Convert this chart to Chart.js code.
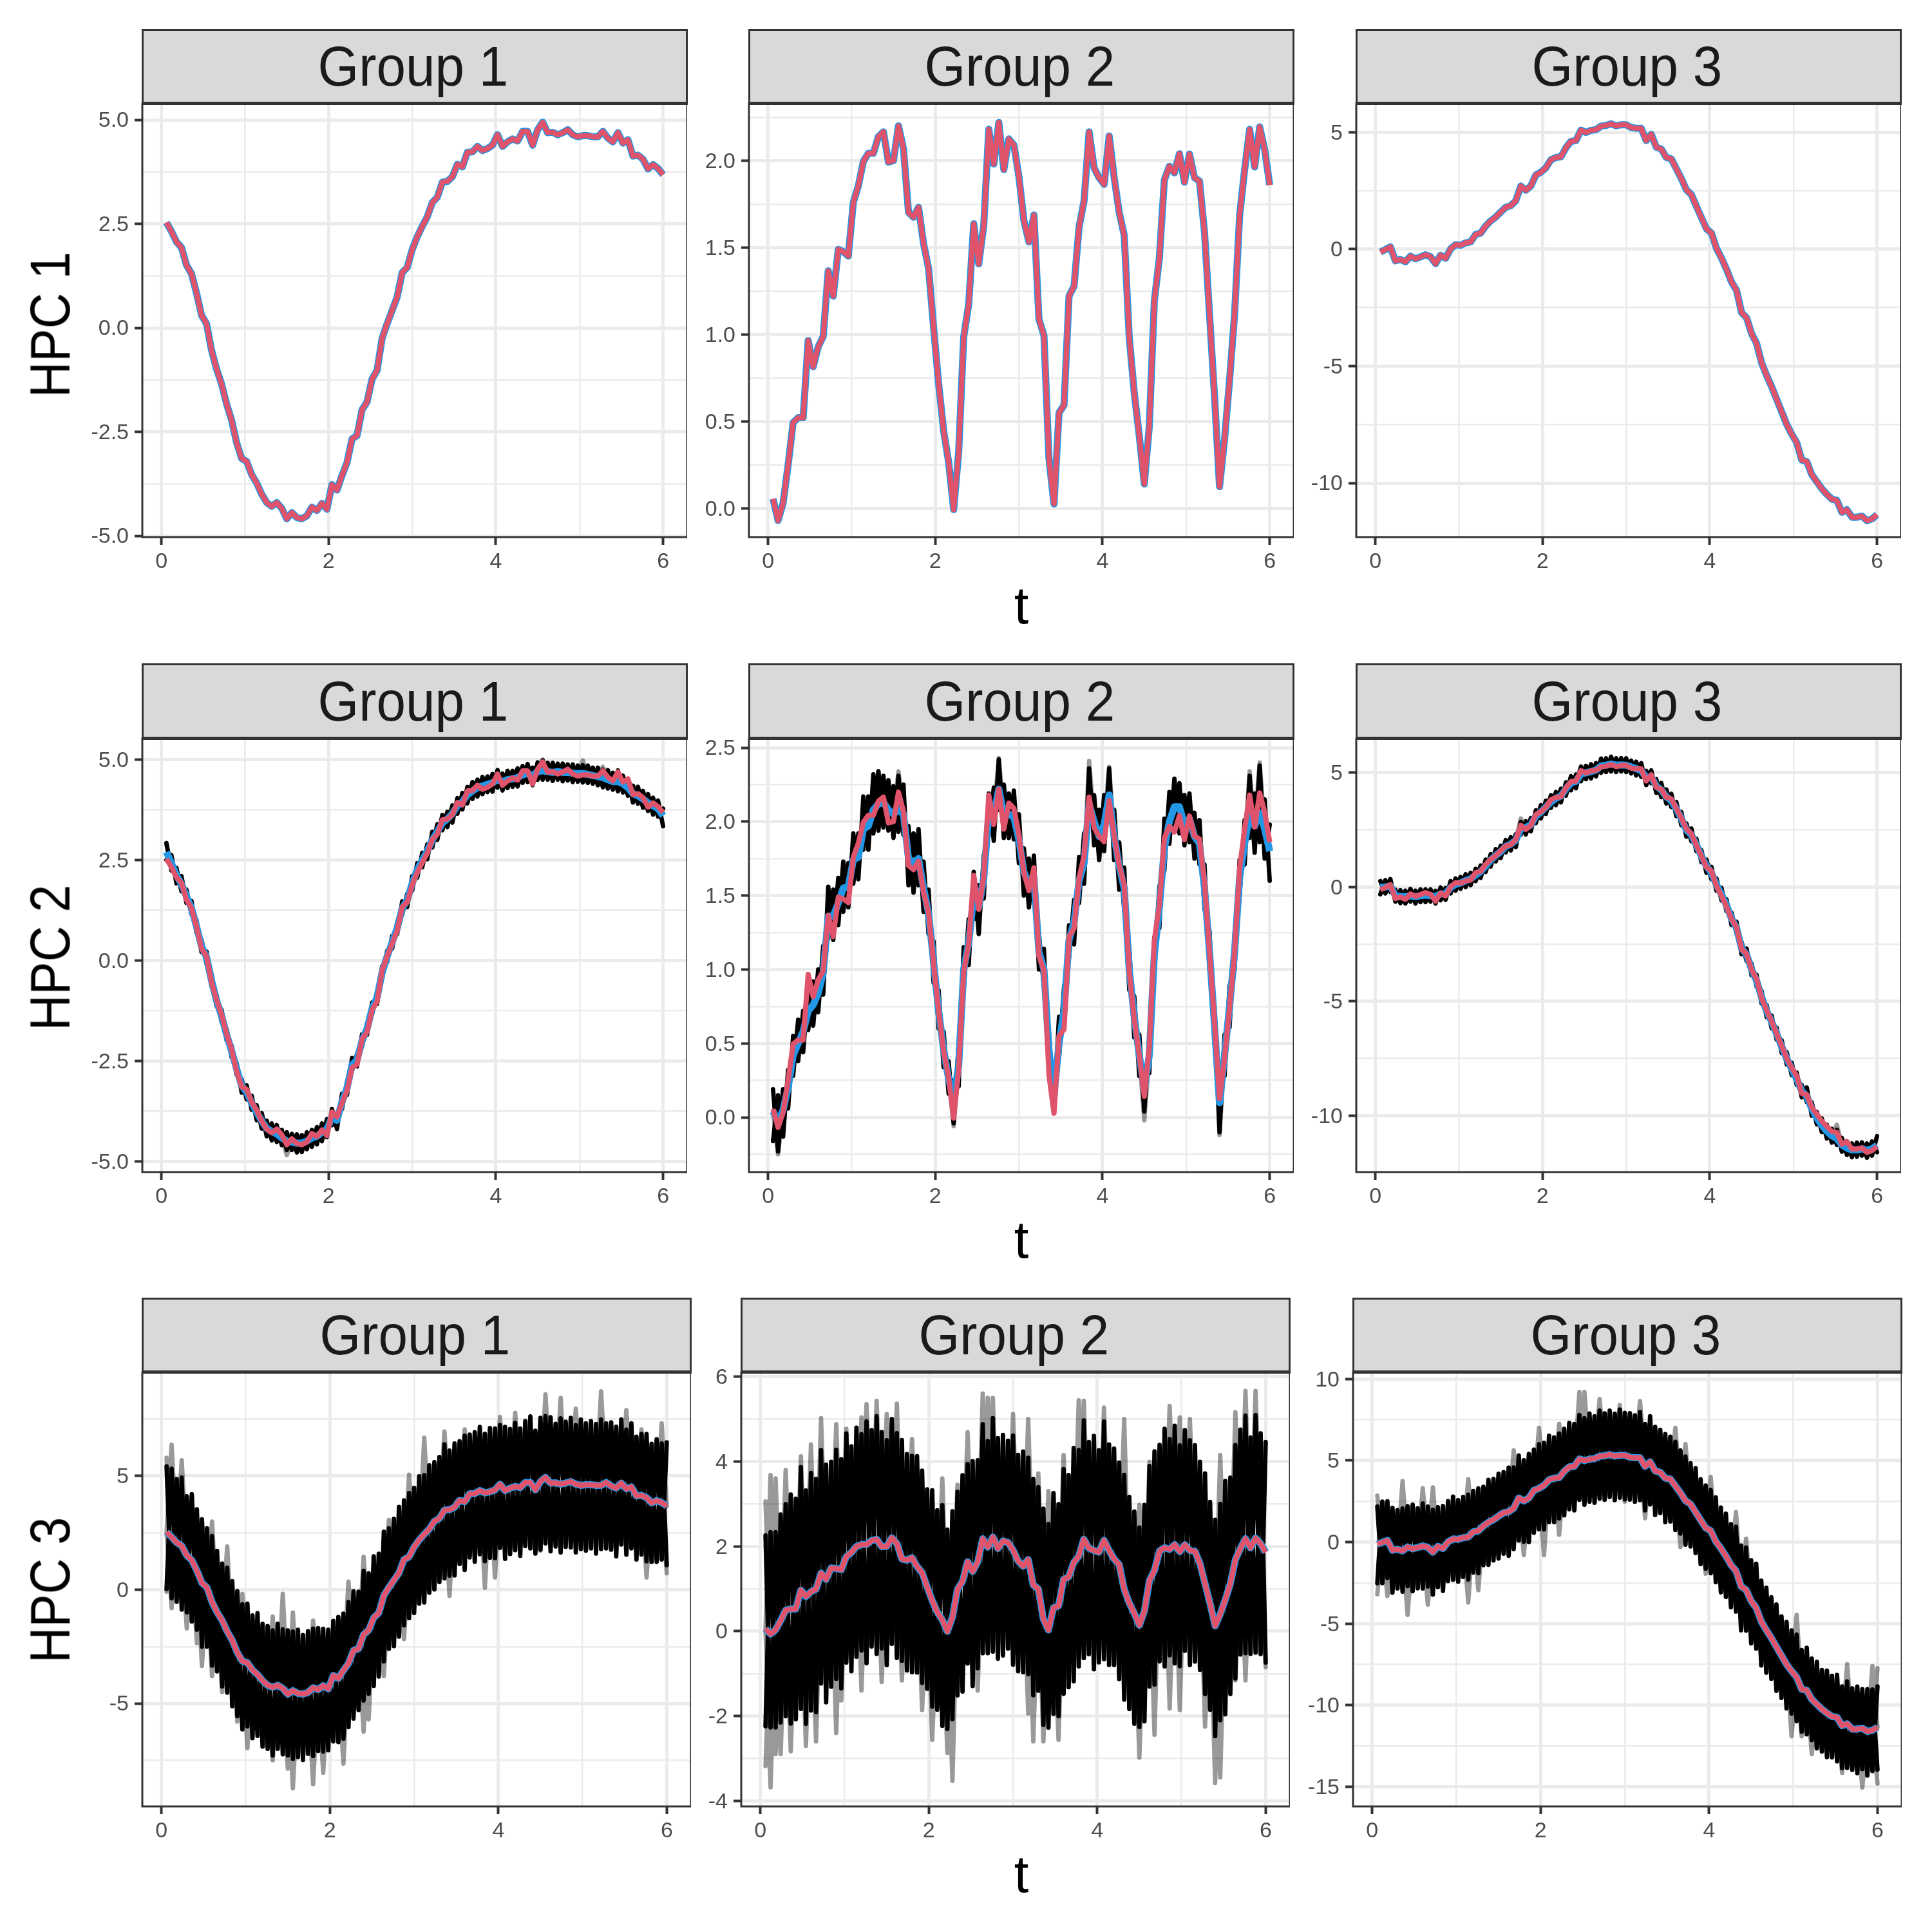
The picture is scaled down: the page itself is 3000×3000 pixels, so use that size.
<!DOCTYPE html>
<html>
<head>
<meta charset="utf-8">
<script src="https://cdn.jsdelivr.net/npm/chart.js@4"></script>
<style>
body { margin: 0; background: #fff; font-family: "Liberation Sans", sans-serif; }
#page { position: relative; width: 3000px; height: 3000px; overflow: hidden; }
canvas { position: absolute; }
.strip { position: absolute; box-sizing: border-box; background: #D9D9D9; border: 3px solid #333; border-bottom-width: 5px; color: #1A1A1A; font-size: 81px; text-align: center; }
.strip span { display: inline-block; transform: translateX(-3px) scale(1.01, 1.07); }
.title { position: absolute; color: #000; font-size: 81px; white-space: nowrap; transform: translate(-50%, -50%); }
</style>
</head>
<body>
<div id="page"></div>
<script>
// Time grid shared by every curve
const t = [0.06,0.12,0.18,0.24,0.30,0.36,0.42,0.48,0.54,0.60,
  0.66,0.72,0.78,0.84,0.90,0.96,1.02,1.08,1.14,1.20,
  1.26,1.32,1.38,1.44,1.50,1.56,1.62,1.68,1.74,1.80,
  1.86,1.92,1.98,2.04,2.10,2.16,2.22,2.28,2.34,2.40,
  2.46,2.52,2.58,2.64,2.70,2.76,2.82,2.88,2.94,3.00,
  3.06,3.12,3.18,3.24,3.30,3.36,3.42,3.48,3.54,3.60,
  3.66,3.72,3.78,3.84,3.90,3.96,4.02,4.08,4.14,4.20,
  4.26,4.32,4.38,4.44,4.50,4.56,4.62,4.68,4.74,4.80,
  4.86,4.92,4.98,5.04,5.10,5.16,5.22,5.28,5.34,5.40,
  5.46,5.52,5.58,5.64,5.70,5.76,5.82,5.88,5.94,6.00];

// Pink curves
const groupOne = [2.53,2.32,2.07,1.93,1.51,1.30,.84,.30,.10,-.54,
  -.99,-1.35,-1.83,-2.22,-2.76,-3.14,-3.21,-3.53,-3.73,-4.0,
  -4.2,-4.29,-4.2,-4.34,-4.59,-4.44,-4.56,-4.59,-4.52,-4.31,
  -4.39,-4.22,-4.36,-3.77,-3.9,-3.55,-3.24,-2.67,-2.59,-1.97,
  -1.78,-1.23,-1.02,-.25,.10,.42,.74,1.33,1.45,1.88,
  2.19,2.44,2.67,3.01,3.14,3.50,3.52,3.63,3.93,3.87,
  4.22,4.23,4.36,4.26,4.31,4.39,4.64,4.36,4.47,4.54,
  4.49,4.72,4.72,4.39,4.76,4.94,4.69,4.70,4.64,4.69,
  4.76,4.64,4.59,4.62,4.62,4.59,4.59,4.72,4.56,4.47,
  4.69,4.44,4.52,4.13,4.15,4.05,3.82,3.92,3.83,3.68];
const groupTwo = [.057,-.068,.032,.25,.495,.523,.523,.967,.816,.93,
  .99,1.367,1.222,1.49,1.477,1.452,1.76,1.855,1.996,2.043,
  2.043,2.138,2.166,1.992,2.0,2.2,2.068,1.703,1.675,1.732,
  1.524,1.382,1.042,.72,.448,.268,-.005,.325,.986,1.175,
  1.637,1.407,1.628,2.18,1.981,2.219,1.949,2.125,2.09,1.911,
  1.656,1.533,1.688,1.09,.995,.287,.028,.551,.595,1.222,
  1.279,1.618,1.77,2.166,1.958,1.902,1.864,2.142,1.902,1.703,
  1.571,.986,.665,.419,.142,.476,1.194,1.439,1.889,1.968,
  1.93,2.04,1.877,2.038,1.902,1.883,1.59,1.118,.646,.127,
  .4,.74,1.118,1.685,1.949,2.18,1.964,2.194,2.062,1.86];
const groupThree = [-.12,-.02,.10,-.50,-.44,-.54,-.30,-.41,-.33,-.24,
  -.32,-.62,-.26,-.39,.01,.19,.17,.27,.31,.63,
  .69,.99,1.21,1.37,1.59,1.79,1.86,2.07,2.70,2.52,
  2.70,3.17,3.29,3.48,3.82,3.92,3.95,4.34,4.61,4.64,
  5.09,4.99,5.08,5.11,5.26,5.29,5.36,5.27,5.32,5.32,
  5.20,5.17,5.17,4.64,4.91,4.36,4.28,3.92,3.86,3.44,
  3.02,2.54,2.33,1.83,1.35,.87,.69,.04,-.38,-.86,
  -1.40,-1.76,-2.71,-2.93,-3.61,-4.03,-4.86,-5.40,-5.88,-6.42,
  -6.95,-7.49,-7.91,-8.27,-9.02,-9.08,-9.64,-9.94,-10.24,-10.48,
  -10.69,-10.74,-11.25,-11.14,-11.46,-11.46,-11.41,-11.61,-11.53,-11.35];

// Blue curves of the HPC 2 row (the other rows sit under the pink curve)
const blueOne = [2.70,2.42,2.12,1.9,1.6,1.3,.85,.35,.08,-.5,
  -1.0,-1.38,-1.85,-2.25,-2.7,-3.12,-3.28,-3.55,-3.78,-4.0,
  -4.18,-4.26,-4.32,-4.42,-4.5,-4.52,-4.55,-4.55,-4.5,-4.42,
  -4.38,-4.28,-4.2,-3.9,-3.98,-3.52,-3.18,-2.6,-2.48,-2.0,
  -1.7,-1.2,-.92,-.3,.1,.45,.8,1.3,1.5,1.92,
  2.25,2.5,2.72,3.0,3.2,3.42,3.52,3.65,3.85,3.95,
  4.12,4.22,4.3,4.34,4.38,4.42,4.5,4.45,4.5,4.52,
  4.55,4.62,4.65,4.6,4.7,4.72,4.7,4.68,4.7,4.68,
  4.68,4.66,4.65,4.65,4.63,4.6,4.58,4.55,4.5,4.45,
  4.45,4.4,4.3,4.15,4.1,4.02,3.92,3.85,3.78,3.6];
const blueTwo = [.04,-.03,.05,.2,.42,.5,.58,.72,.76,.84,
  .98,1.36,1.36,1.45,1.55,1.56,1.74,1.76,1.95,1.97,
  2.08,2.12,2.13,2.08,2.05,2.08,2.05,1.75,1.72,1.75,
  1.55,1.38,1.05,.72,.46,.26,.12,.35,1.0,1.18,
  1.5,1.42,1.62,2.05,2.05,2.22,2.05,2.05,2.03,1.88,
  1.66,1.58,1.62,1.12,1.0,.45,.15,.5,.72,1.2,
  1.32,1.6,1.72,2.12,2.0,1.9,1.98,2.18,1.9,1.7,
  1.55,1.0,.68,.42,.2,.42,1.1,1.42,1.82,2.0,
  2.1,2.1,1.98,2.02,1.9,1.85,1.55,1.12,.62,.1,
  .42,.75,1.12,1.62,1.85,2.05,1.97,2.06,1.95,1.8];
const blueThree = [-.02,.0,.05,-.38,-.42,-.42,-.38,-.42,-.38,-.36,
  -.38,-.42,-.3,-.3,-.02,.12,.18,.28,.36,.52,
  .68,.92,1.18,1.38,1.55,1.78,1.88,2.05,2.55,2.6,
  2.72,3.1,3.28,3.5,3.72,3.88,3.98,4.3,4.55,4.62,
  4.95,5.0,5.05,5.12,5.3,5.33,5.38,5.33,5.34,5.33,
  5.25,5.18,5.1,4.78,4.82,4.42,4.25,3.95,3.78,3.42,
  3.0,2.5,2.28,1.85,1.35,.92,.62,.1,-.32,-.8,
  -1.38,-1.78,-2.68,-2.95,-3.6,-4.1,-4.82,-5.42,-5.9,-6.42,
  -6.98,-7.5,-7.95,-8.4,-8.92,-9.15,-9.7,-10.1,-10.42,-10.68,
  -10.88,-11.0,-11.28,-11.42,-11.5,-11.5,-11.45,-11.52,-11.45,-11.3];

// Height of the black bundle above and below the curve, read tooth by tooth
const hpc2Hi1 = [.22,.2,.18,.2,.16,.18,.15,.16,.14,.15,
  .14,.15,.14,.13,.14,.16,.17,.18,.17,.2,
  .19,.2,.22,.2,.22,.2,.22,.2,.22,.2,
  .23,.22,.25,.2,.18,.2,.16,.17,.15,.16,
  .14,.15,.14,.15,.14,.16,.15,.17,.16,.18,
  .17,.18,.17,.2,.19,.2,.18,.21,.19,.22,
  .2,.22,.2,.23,.2,.22,.24,.2,.22,.2,
  .23,.22,.24,.2,.23,.26,.22,.24,.2,.22,
  .2,.22,.2,.21,.22,.2,.22,.2,.24,.22,
  .28,.2,.22,.2,.22,.2,.22,.2,.2,.18];
const hpc2Lo1 = [.2,.18,.2,.18,.17,.15,.16,.14,.16,.15,
  .14,.15,.14,.16,.15,.17,.18,.17,.2,.19,
  .2,.22,.2,.18,.22,.2,.23,.22,.2,.22,
  .2,.22,.2,.2,.22,.18,.17,.15,.16,.14,
  .15,.14,.16,.15,.14,.16,.15,.16,.17,.18,
  .19,.18,.2,.19,.2,.18,.2,.22,.2,.19,
  .21,.2,.22,.2,.19,.22,.2,.22,.21,.2,
  .22,.2,.21,.24,.2,.22,.2,.21,.2,.22,
  .2,.22,.2,.22,.21,.2,.22,.24,.22,.2,
  .24,.22,.2,.22,.2,.22,.2,.22,.2,.26];
const hpc2Hi2 = [.15,.18,.14,.12,.13,.16,.14,.14,.16,.16,
  .18,.2,.18,.17,.18,.16,.18,.16,.22,.2,
  .24,.22,.18,.2,.19,.23,.2,.22,.2,.2,
  .18,.16,.14,.14,.12,.12,.13,.15,.15,.16,
  .16,.15,.15,.14,.18,.2,.2,.14,.18,.17,
  .16,.17,.15,.12,.14,.12,.12,.18,.16,.1,
  .15,.16,.2,.24,.18,.18,.2,.18,.18,.16,
  .14,.15,.14,.14,.1,.12,.12,.14,.2,.2,
  .19,.16,.2,.17,.16,.16,.16,.14,.12,.14,
  .14,.14,.12,.12,.16,.26,.22,.32,.2,.18];
const hpc2Lo2 = [.2,.2,.18,.14,.14,.12,.14,.13,.14,.13,
  .15,.15,.16,.15,.16,.14,.16,.15,.14,.16,
  .16,.18,.17,.14,.16,.15,.14,.18,.2,.18,
  .16,.14,.14,.12,.12,.1,.16,.14,.14,.15,
  .16,.18,.14,.14,.18,.14,.16,.16,.15,.16,
  .16,.16,.16,.12,.12,.12,.1,.1,.12,.12,
  .15,.15,.14,.14,.16,.16,.18,.15,.16,.16,
  .15,.14,.14,.14,.16,.12,.12,.14,.15,.15,
  .16,.18,.14,.16,.15,.14,.14,.12,.12,.2,
  .14,.14,.12,.12,.14,.16,.18,.2,.2,.2];
const hpc2Hi3 = [.28,.3,.3,.26,.28,.26,.3,.26,.28,.26,
  .28,.25,.28,.26,.28,.26,.26,.28,.26,.28,
  .26,.28,.26,.28,.26,.28,.3,.26,.3,.28,
  .3,.26,.3,.28,.3,.28,.32,.28,.3,.3,
  .3,.3,.32,.3,.32,.3,.32,.3,.3,.3,
  .28,.3,.32,.3,.28,.3,.3,.32,.3,.3,
  .28,.28,.28,.26,.26,.28,.26,.28,.28,.26,
  .26,.26,.28,.26,.26,.26,.28,.26,.28,.26,
  .28,.28,.26,.28,.26,.38,.28,.26,.3,.28,
  .3,.38,.3,.3,.28,.32,.28,.3,.32,.4];
const hpc2Lo3 = [.3,.28,.26,.26,.28,.3,.26,.3,.28,.3,
  .26,.3,.28,.26,.26,.28,.26,.28,.28,.26,
  .28,.26,.28,.26,.28,.26,.28,.3,.26,.3,
  .28,.3,.28,.3,.26,.3,.28,.3,.32,.3,
  .32,.28,.3,.28,.3,.3,.32,.3,.28,.3,
  .28,.3,.28,.32,.28,.3,.32,.3,.28,.32,
  .3,.3,.28,.28,.26,.3,.28,.26,.26,.26,
  .28,.26,.26,.28,.26,.26,.28,.26,.28,.26,
  .28,.26,.28,.26,.28,.26,.3,.28,.3,.32,
  .3,.28,.3,.3,.32,.3,.3,.32,.3,.3];
const hpc3Hi1 = [2.9,3.0,2.8,3.0,2.6,2.9,2.7,2.8,2.6,2.9,
  2.7,2.5,2.8,2.6,2.7,2.5,2.6,2.4,2.7,2.5,
  2.6,2.5,2.7,2.6,2.8,2.6,2.8,2.6,2.7,2.6,
  2.7,2.5,2.6,2.4,2.7,2.5,2.7,2.6,2.5,2.8,
  2.5,2.7,2.6,2.8,2.6,2.7,2.9,2.6,2.8,2.6,
  2.8,2.6,2.8,2.6,2.7,2.9,2.6,2.8,2.6,2.9,
  2.6,2.7,2.8,2.6,2.8,2.7,2.6,2.8,2.6,2.8,
  2.6,2.7,2.9,2.6,2.8,2.7,2.9,2.6,2.9,2.7,
  2.8,2.6,2.9,2.7,2.8,2.7,2.9,2.6,2.8,2.7,
  2.8,2.6,2.8,2.6,2.7,2.8,2.6,2.7,2.6,2.8];
const hpc3Lo1 = [2.5,2.7,2.6,2.8,2.5,2.7,2.6,2.8,2.6,2.8,
  2.6,2.9,2.7,2.9,2.8,3.0,2.8,3.0,2.7,2.9,
  2.8,3.0,2.8,2.9,2.7,3.0,2.8,2.9,2.7,3.0,
  2.7,2.9,2.7,2.9,2.8,3.0,2.8,3.0,2.7,2.9,
  2.8,3.0,2.8,2.9,2.7,2.9,2.8,2.9,2.7,2.9,
  2.8,3.0,2.8,3.0,2.8,3.0,2.9,3.0,2.8,3.0,
  2.8,3.0,2.8,3.0,2.9,3.0,2.8,3.0,2.9,2.8,
  3.0,2.8,2.9,2.8,3.0,2.9,3.0,2.8,3.0,2.8,
  2.9,3.0,2.8,2.9,2.8,3.0,2.8,2.9,2.8,3.0,
  2.7,2.9,2.7,2.8,2.6,2.8,2.6,2.7,2.5,2.6];
const hpc3Hi2 = [2.2,2.4,2.3,2.5,2.5,2.7,2.6,2.9,2.5,2.8,
  2.6,2.9,2.7,2.5,2.8,2.6,2.9,2.5,2.8,2.6,
  2.9,2.6,2.9,2.7,2.5,2.8,2.6,2.8,2.5,2.4,
  2.6,2.4,2.3,2.6,2.4,2.7,2.4,2.5,2.3,2.5,
  2.3,2.6,2.4,2.7,2.5,2.8,2.6,2.5,2.4,2.7,
  2.5,2.7,2.4,2.5,2.4,2.6,2.5,2.7,2.4,2.6,
  2.4,2.7,2.5,2.8,2.5,2.7,2.4,2.8,2.5,2.6,
  2.4,2.7,2.5,2.4,2.3,2.5,2.7,2.8,2.5,2.8,
  2.6,2.8,2.5,2.7,2.6,2.5,2.4,2.6,2.4,2.5,
  2.6,2.8,2.5,2.7,2.8,2.9,2.6,2.9,2.6,2.6];
const hpc3Lo2 = [2.3,2.2,2.3,2.4,2.5,2.7,2.6,2.8,3.0,2.8,
  2.9,2.6,2.9,2.8,2.6,2.8,2.5,2.8,2.6,2.5,
  2.8,2.5,2.7,2.4,2.8,2.5,2.7,2.4,2.6,2.7,
  2.5,2.6,2.4,2.5,2.3,2.5,2.3,2.4,2.5,2.6,
  2.4,2.7,2.5,2.7,2.5,2.7,2.6,2.7,2.5,2.7,
  2.6,2.5,2.7,2.6,2.4,2.5,2.3,2.5,2.6,2.7,
  2.6,2.8,2.6,2.8,2.5,2.8,2.6,2.8,2.7,2.5,
  2.7,2.6,2.5,2.6,2.4,2.6,2.5,2.7,2.6,2.8,
  2.5,2.8,2.7,2.5,2.7,2.6,2.5,2.6,2.5,2.6,
  2.5,2.7,2.6,2.8,2.5,2.7,2.5,2.7,2.6,2.6];
const hpc3Hi3 = [2.3,2.5,2.4,2.6,2.4,2.6,2.5,2.7,2.4,2.6,
  2.5,2.6,2.4,2.6,2.5,2.6,2.4,2.5,2.6,2.5,
  2.6,2.4,2.6,2.5,2.6,2.5,2.7,2.5,2.6,2.5,
  2.7,2.5,2.7,2.6,2.7,2.5,2.7,2.6,2.7,2.6,
  2.7,2.6,2.8,2.6,2.8,2.6,2.7,2.6,2.8,2.6,
  2.7,2.6,2.8,2.6,2.8,2.7,2.6,2.7,2.6,2.7,
  2.6,2.7,2.5,2.7,2.5,2.6,2.5,2.7,2.5,2.6,
  2.5,2.7,2.5,2.6,2.5,2.7,2.5,2.6,2.5,2.6,
  2.4,2.6,2.5,2.6,2.4,2.6,2.5,2.6,2.4,2.6,
  2.5,2.6,2.4,2.6,2.5,2.6,2.4,2.6,2.5,2.5];
const hpc3Lo3 = [2.4,2.5,2.3,2.6,2.4,2.5,2.4,2.6,2.5,2.6,
  2.4,2.6,2.5,2.6,2.4,2.5,2.6,2.4,2.6,2.5,
  2.6,2.4,2.6,2.5,2.6,2.5,2.7,2.5,2.6,2.5,
  2.7,2.6,2.5,2.7,2.6,2.7,2.5,2.7,2.6,2.7,
  2.5,2.7,2.6,2.7,2.6,2.7,2.6,2.7,2.6,2.7,
  2.6,2.7,2.6,2.7,2.6,2.7,2.5,2.7,2.6,2.7,
  2.5,2.7,2.6,2.5,2.7,2.5,2.6,2.5,2.7,2.5,
  2.6,2.5,2.7,2.5,2.6,2.5,2.7,2.6,2.5,2.7,
  2.6,2.7,2.6,2.7,2.6,2.7,2.5,2.7,2.6,2.7,
  2.5,2.7,2.6,2.7,2.5,2.7,2.5,2.7,2.5,2.6];

// Single grey spikes outside the bundle: grid position and value
const spikeAt21 = [1,16,25,84,76,88];
const spikeVal21 = [2.88,-3.05,-4.85,4.98,5.0,4.82];
const spikeAt22 = [46,64,68,98,96,22,26,2,90,75,37];
const spikeVal22 = [2.43,2.41,2.37,2.4,2.34,2.34,2.34,-.25,-.12,-.02,-.06];
const spikeAt23 = [29,41,92];
const spikeVal23 = [3.0,5.3,-10.4];
const spikeAt31 = [2,1,4,6,8,10,13,16,24,26,22,30,37,40,45,49,52,56,60,67,70,76,79,82,87,92,95,99,
  1,2,5,7,8,10,12,15,17,22,25,26,30,32,36,40,41,44,48,57,64,66,75,96,100];
const spikeVal31 = [6.38,5.8,5.7,4.07,3.0,3.0,1.9,-.18,-.18,-1.0,-1.18,-1.36,.36,1.45,3.07,5.06,6.69,6.96,7.05,7.6,7.78,8.59,8.44,7.96,8.73,7.9,7.05,7.32,
  -.09,-.81,-1.7,-2.35,-3.35,-3.8,-4.5,-5.8,-6.96,-7.5,-7.87,-8.73,-8.55,-8.05,-7.65,-6.24,-5.7,-3.8,-2.17,-.27,.09,.54,1.72,.54,.72];
const spikeAt32 = [1,2,3,5,8,10,12,15,17,20,21,23,25,27,30,36,39,41,44,45,46,50,53,55,57,58,60,63,64,68,72,75,77,81,83,85,91,94,96,98,
  1,2,3,4,6,9,11,15,16,20,24,28,32,34,37,38,43,53,54,56,59,75,78,81,83,88,90,91,94,96,100];
const spikeVal32 = [3.06,3.68,3.6,3.8,4.12,4.4,5.02,4.88,4.77,5.04,5.35,5.43,5.12,5.36,4.53,3.6,3.45,4.69,5.6,5.5,5.5,5.12,5.0,3.72,3.3,3.26,4.15,5.44,5.43,5.27,5.0,2.98,3.99,5.31,5.04,5.0,4.15,5.16,5.66,5.66,
  -3.18,-3.68,-2.9,-2.9,-2.83,-2.7,-2.6,-2.4,-1.63,-1.4,-1.2,-1.16,-1.86,-2.56,-2.87,-3.53,-1.4,-1.94,-2.6,-2.6,-2.56,-2.98,-2.44,-1.82,-1.86,-2.25,-3.58,-3.45,-1.16,-1.16,-.85];
const spikeAt33 = [1,6,10,12,19,28,33,37,41,42,45,49,53,60,62,67,72,74,84,94,99,100,
  1,3,7,11,19,21,30,34,37,50,54,61,66,77,83,85,87,93,97,100];
const spikeVal33 = [2.85,3.73,3.3,3.35,3.85,5.62,7.0,7.25,9.2,9.2,8.77,8.4,8.64,7.0,6.0,4.0,1.84,.2,-4.46,-7.48,-7.6,-7.73,
  -3.2,-3.3,-4.46,-3.83,-3.7,-2.95,-.8,-.8,.45,2.47,1.46,-.3,-1.94,-6.35,-11.9,-11.9,-13.0,-14.15,-15.04,-14.8];

// Axis ticks
const xMajor = [0,2,4,6];
const xMinor = [1,3,5];
const yMajor11 = [-5,-2.5,0,2.5,5];
const yMinor11 = [-3.75,-1.25,1.25,3.75];
const yLabels11 = ["-5.0","-2.5","0.0","2.5","5.0"];
const yMajor12 = [0,.5,1,1.5,2];
const yMinor12 = [.25,.75,1.25,1.75,2.25];
const yLabels12 = ["0.0","0.5","1.0","1.5","2.0"];
const yMajor13 = [-10,-5,0,5];
const yMinor13 = [-7.5,-2.5,2.5];
const yLabels13 = ["-10","-5","0","5"];
const yMajor22 = [0,.5,1,1.5,2,2.5];
const yMinor22 = [-.25,.25,.75,1.25,1.75,2.25];
const yLabels22 = ["0.0","0.5","1.0","1.5","2.0","2.5"];
const yMajor31 = [-5,0,5];
const yMinor31 = [-7.5,-2.5,2.5,7.5];
const yLabels31 = ["-5","0","5"];
const yMajor32 = [-4,-2,0,2,4,6];
const yMinor32 = [-3,-1,1,3,5];
const yLabels32 = ["-4","-2","0","2","4","6"];
const yMajor33 = [-15,-10,-5,0,5,10];
const yMinor33 = [-12.5,-7.5,-2.5,2.5,7.5];
const yLabels33 = ["-15","-10","-5","0","5","10"];

const stripNames = ["Group 1","Group 2","Group 3"];
const rowNames = ["HPC 1","HPC 2","HPC 3"];

// Layout in page pixels
const rowsBox = [{strip:46,top:161,bottom:834},{strip:1031,top:1147,bottom:1820},{strip:2016,top:2131,bottom:2805}];
const colsTop = [[221,1067],[1163,2009],[2106,2952]];
const colsLow = [[221,1073],[1151,2003],[2101,2953]];
const xRange = [-.228,6.288];

const panels = [
  {row:0,col:0,curve:groupOne,blue:groupOne,y:[-5.03,5.387],major:yMajor11,minor:yMinor11,labels:yLabels11},
  {row:0,col:1,curve:groupTwo,blue:groupTwo,y:[-.163,2.3275],major:yMajor12,minor:yMinor12,labels:yLabels12},
  {row:0,col:2,curve:groupThree,blue:groupThree,y:[-12.31,6.22],major:yMajor13,minor:yMinor13,labels:yLabels13},
  {row:1,col:0,curve:groupOne,blue:blueOne,y:[-5.27,5.52],major:yMajor11,minor:yMinor11,labels:yLabels11,hi:hpc2Hi1,lo:hpc2Lo1,at:spikeAt21,val:spikeVal21,w:6.8},
  {row:1,col:1,curve:groupTwo,blue:blueTwo,y:[-.37,2.561],major:yMajor22,minor:yMinor22,labels:yLabels22,hi:hpc2Hi2,lo:hpc2Lo2,at:spikeAt22,val:spikeVal22,w:6.8},
  {row:1,col:2,curve:groupThree,blue:blueThree,y:[-12.47,6.49],major:yMajor13,minor:yMinor13,labels:yLabels13,hi:hpc2Hi3,lo:hpc2Lo3,at:spikeAt23,val:spikeVal23,w:6.8},
  {row:2,col:0,curve:groupOne,blue:groupOne,y:[-9.53,9.56],major:yMajor31,minor:yMinor31,labels:yLabels31,hi:hpc3Hi1,lo:hpc3Lo1,at:spikeAt31,val:spikeVal31,w:6.8},
  {row:2,col:1,curve:groupTwo,blue:groupTwo,y:[-4.13,6.1],major:yMajor32,minor:yMinor32,labels:yLabels32,hi:hpc3Hi2,lo:hpc3Lo2,at:spikeAt32,val:spikeVal32,w:6.8},
  {row:2,col:2,curve:groupThree,blue:groupThree,y:[-16.2,10.4],major:yMajor33,minor:yMinor33,labels:yLabels33,hi:hpc3Hi3,lo:hpc3Lo3,at:spikeAt33,val:spikeVal33,w:6.8}
];

const page = document.getElementById("page");
const leftRoom = 130, bottomRoom = 70, topRoom = 30;

const panelBorder = {
  id: "panelBorder",
  // canvas text sits a little high against the tick, nudge the y labels down
  beforeDraw(chart) {
    chart.scales.y.getLabelItems(chart.chartArea).forEach(item => {
      if (!item.nudged) { item.textOffset += 2; item.nudged = true; }
    });
  },
  afterDatasetsDraw(chart) {
    const a = chart.chartArea, c = chart.ctx;
    c.save();
    c.strokeStyle = "#333";
    c.lineWidth = 3;
    c.strokeRect(a.left, a.top, a.right - a.left, a.bottom - a.top);
    c.restore();
  }
};

function line(data, color, width, cap) {
  return {data, borderColor: color, borderWidth: width, pointRadius: 0, tension: 0,
    fill: false, borderCapStyle: cap, borderJoinStyle: "round", clip: 0, spanGaps: false};
}

// One sample path that jumps between the top and the bottom of the bundle
function zigzag(center, hi, lo, startHigh) {
  return t.map((x, i) => ({x, y: (i % 2 === 0) === startHigh ? center[i] + hi[i] : center[i] - lo[i]}));
}

// Grey spikes: each leaves the curve at the previous grid step and returns at the next
function spikes(center, at, val) {
  const pts = [];
  at.forEach((n, k) => {
    const i = n - 1;
    if (i > 0) pts.push({x: t[i - 1], y: center[i - 1]});
    pts.push({x: t[i], y: val[k]});
    if (i < t.length - 1) pts.push({x: t[i + 1], y: center[i + 1]});
    pts.push({x: t[i], y: null});
  });
  return pts;
}

function axis(min, max, major, minor, label, isX) {
  const scale = {
    type: "linear", min, max,
    afterBuildTicks(s) { s.ticks = major.concat(minor).map(value => ({value})); },
    grid: {
      color: "#EBEBEB",
      lineWidth: c => major.includes(c.tick.value) ? 5 : 2.5,
      tickColor: c => major.includes(c.tick.value) ? "#333" : "rgba(0,0,0,0)",
      tickWidth: 4, tickLength: 12
    },
    border: {display: false},
    ticks: {
      autoSkip: false, maxRotation: 0, minRotation: 0, padding: isX ? 6 : 9,
      color: "#4D4D4D", font: {family: "Liberation Sans", size: 34},
      callback: v => { const i = major.indexOf(v); return i < 0 ? "" : label[i]; }
    }
  };
  if (isX) scale.afterFit = s => { s.height = bottomRoom; };
  else scale.afterFit = s => { s.width = leftRoom; };
  return scale;
}

panels.forEach(p => {
  const box = rowsBox[p.row];
  const [left, right] = (p.row === 2 ? colsLow : colsTop)[p.col];

  const strip = document.createElement("div");
  strip.className = "strip";
  const label = document.createElement("span");
  label.textContent = stripNames[p.col];
  strip.appendChild(label);
  strip.style.cssText = `left:${left - 1}px;top:${box.strip - 1}px;width:${right - left + 2}px;height:${box.top - box.strip + 3}px;line-height:${box.top - box.strip - 4}px`;

  const canvas = document.createElement("canvas");
  canvas.width = right - left + leftRoom;
  canvas.height = box.bottom - box.top + bottomRoom + topRoom;
  canvas.style.cssText = `left:${left - leftRoom}px;top:${box.top - topRoom}px;width:${canvas.width}px;height:${canvas.height}px`;
  page.appendChild(canvas);
  page.appendChild(strip);

  const datasets = [
    line(t.map((x, i) => ({x, y: p.curve[i]})), "#DF536B", 8, "butt"),
    line(t.map((x, i) => ({x, y: p.blue[i]})), "#2297E6", 11, "butt")
  ];
  if (p.hi) {
    datasets.push(line(zigzag(p.blue, p.hi, p.lo, true), "#000", p.w, "round"));
    datasets.push(line(zigzag(p.blue, p.hi, p.lo, false), "#000", p.w, "round"));
    datasets.push(line(spikes(p.blue, p.at, p.val), "rgba(0,0,0,0.4)", p.w, "round"));
  }

  new Chart(canvas, {
    type: "line",
    data: {datasets},
    options: {
      responsive: false, animation: false, devicePixelRatio: 1,
      layout: {padding: {top: topRoom, left: 0, right: 0, bottom: 0}},
      plugins: {legend: {display: false}, tooltip: {enabled: false}},
      scales: {
        x: axis(xRange[0], xRange[1], xMajor, xMinor, xMajor.map(String), true),
        y: axis(p.y[0], p.y[1], p.major, p.minor, p.labels, false)
      }
    },
    plugins: [panelBorder]
  });
});

// Axis titles
function title(text, x, y, rotate) {
  const el = document.createElement("div");
  el.className = "title";
  el.textContent = text;
  el.style.left = x + "px";
  el.style.top = y + "px";
  if (rotate) el.style.transform = "translate(-50%, -50%) rotate(-90deg) scale(.95, 1.08)";
  page.appendChild(el);
}
title(rowNames[0], 78, 504, true);
title(rowNames[1], 78, 1487, true);
title(rowNames[2], 78, 2469, true);
title("t", 1586, 940, false);
title("t", 1586, 1925, false);
title("t", 1586, 2910, false);
</script>
</body>
</html>
